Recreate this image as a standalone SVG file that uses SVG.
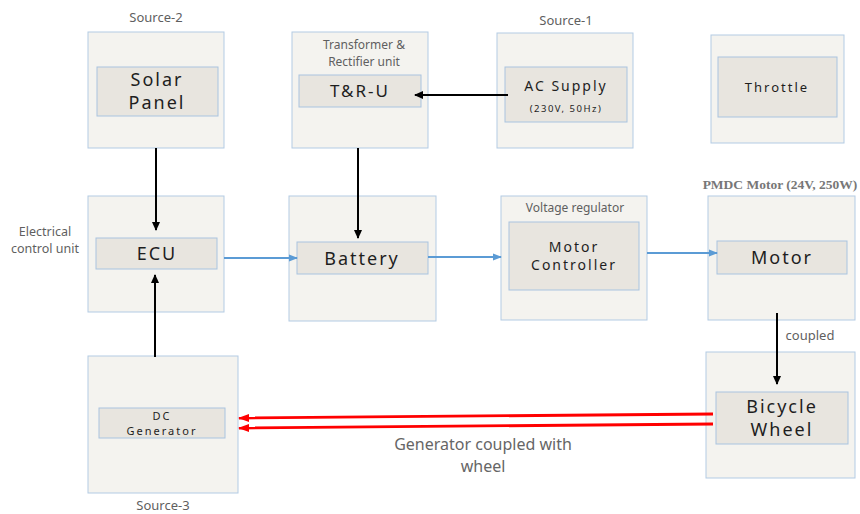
<svg xmlns="http://www.w3.org/2000/svg" width="860" height="514" viewBox="0 0 860 514">
<style>
.outer{fill:#f4f3ef;stroke:#b3cbe4;stroke-width:1}
.inner{fill:#e8e5df;stroke:#a9c4e0;stroke-width:1}
.t{font-family:"Noto Sans","Liberation Sans",sans-serif;fill:#1e1e1e;text-anchor:middle;letter-spacing:2px}
.lbl{font-family:"Noto Sans","Liberation Sans",sans-serif;fill:#5f5f5f;text-anchor:middle}
.blk{stroke:#000;stroke-width:2;fill:none}
.blu{stroke:#5b9bd5;stroke-width:2;fill:none}
.red{stroke:#f00;stroke-width:2.8;fill:none}
</style>
<defs>
<marker id="ab" markerWidth="10" markerHeight="10" refX="8" refY="5" orient="auto" markerUnits="userSpaceOnUse"><path d="M0,1 L9,5 L0,9 Z" fill="#000"/></marker>
<marker id="au" markerWidth="10" markerHeight="10" refX="8" refY="5" orient="auto" markerUnits="userSpaceOnUse"><path d="M0,1.5 L9,5 L0,8.5 Z" fill="#5b9bd5"/></marker>
<marker id="ar" markerWidth="12" markerHeight="10" refX="10" refY="5" orient="auto" markerUnits="userSpaceOnUse"><path d="M0,1 L11,5 L0,9 Z" fill="#f00"/></marker>
</defs>
<rect width="860" height="514" fill="#fff"/>

<g id="solar">
<text class="lbl" x="156" y="22" font-size="13">Source-2</text>
<rect class="outer" x="88" y="32" width="136" height="116"/>
<rect class="inner" x="97" y="67" width="121" height="49"/>
<text class="t" x="157" y="86" font-size="18">Solar</text>
<text class="t" x="157" y="109" font-size="18">Panel</text>
</g>

<g id="tru">
<rect class="outer" x="292" y="32" width="136" height="116"/>
<text class="lbl" x="364" y="49" font-size="12">Transformer &amp;</text>
<text class="lbl" x="364" y="66" font-size="12">Rectifier unit</text>
<rect class="inner" x="299" y="75" width="122" height="32"/>
<text class="t" x="360" y="97" font-size="17">T&amp;R-U</text>
</g>

<g id="ac">
<text class="lbl" x="566" y="25" font-size="13">Source-1</text>
<rect class="outer" x="497" y="33" width="136" height="115"/>
<rect class="inner" x="505" y="67" width="122" height="55"/>
<text class="t" x="566" y="91" font-size="14">AC Supply</text>
<text class="t" x="566" y="112" font-size="9.5" style="letter-spacing:1.5px">(230V, 50Hz)</text>
</g>

<g id="throttle">
<rect class="outer" x="711" y="35" width="133" height="108"/>
<rect class="inner" x="718" y="57" width="119" height="60"/>
<text class="t" x="777" y="92" font-size="13">Throttle</text>
</g>

<g id="ecu">
<text class="lbl" x="45" y="236" font-size="12.5">Electrical</text>
<text class="lbl" x="45" y="253" font-size="12.5">control unit</text>
<rect class="outer" x="88" y="196" width="136" height="116"/>
<rect class="inner" x="96" y="238" width="121" height="31"/>
<text class="t" x="157" y="260" font-size="18">ECU</text>
</g>

<g id="battery">
<rect class="outer" x="289" y="196" width="147" height="125"/>
<rect class="inner" x="297" y="242" width="131" height="32"/>
<text class="t" x="362" y="265" font-size="18">Battery</text>
</g>

<g id="controller">
<rect class="outer" x="501" y="196" width="146" height="124"/>
<text class="lbl" x="575" y="212" font-size="12">Voltage regulator</text>
<rect class="inner" x="509" y="222" width="130" height="68"/>
<text class="t" x="574" y="252" font-size="14">Motor</text>
<text class="t" x="574" y="270" font-size="14">Controller</text>
</g>

<g id="motor">
<text x="780" y="189" font-family="Liberation Serif,serif" font-weight="bold" font-size="13.5" fill="#777" text-anchor="middle">PMDC Motor (24V, 250W)</text>
<rect class="outer" x="708" y="196" width="147" height="124"/>
<rect class="inner" x="717" y="241" width="130" height="33"/>
<text class="t" x="782" y="264" font-size="18">Motor</text>
</g>

<g id="wheel">
<rect class="outer" x="706" y="352" width="149" height="126"/>
<rect class="inner" x="716" y="392" width="132" height="52"/>
<text class="t" x="782" y="413" font-size="18">Bicycle</text>
<text class="t" x="782" y="436" font-size="18">Wheel</text>
</g>

<g id="generator">
<rect class="outer" x="88" y="356" width="150" height="137"/>
<rect class="inner" x="99" y="408" width="126" height="30"/>
<text class="t" x="162" y="420" font-size="11">DC</text>
<text class="t" x="162" y="435" font-size="11">Generator</text>
<text class="lbl" x="163" y="510" font-size="13">Source-3</text>
</g>

<g id="connectors">
<line class="blk" x1="508" y1="95" x2="415" y2="95" marker-end="url(#ab)"/>
<line class="blk" x1="156" y1="148" x2="156" y2="230" marker-end="url(#ab)"/>
<line class="blk" x1="358" y1="148" x2="358" y2="238" marker-end="url(#ab)"/>
<line class="blk" x1="155" y1="357" x2="155" y2="275" marker-end="url(#ab)"/>
<line class="blu" x1="224" y1="258" x2="297" y2="258" marker-end="url(#au)"/>
<line class="blu" x1="428" y1="257" x2="501" y2="257" marker-end="url(#au)"/>
<line class="blu" x1="647" y1="253" x2="717" y2="253" marker-end="url(#au)"/>
<line class="blk" x1="777" y1="313" x2="777" y2="384" marker-end="url(#ab)"/>
<text class="lbl" x="810" y="340" font-size="13">coupled</text>
<line class="red" x1="713" y1="414" x2="239" y2="418" marker-end="url(#ar)"/>
<line class="red" x1="713" y1="424" x2="239" y2="428" marker-end="url(#ar)"/>
<text class="lbl" x="483" y="450" font-size="16" style="fill:#666">Generator coupled with</text>
<text class="lbl" x="483" y="472" font-size="16" style="fill:#666">wheel</text>
</g>
</svg>
